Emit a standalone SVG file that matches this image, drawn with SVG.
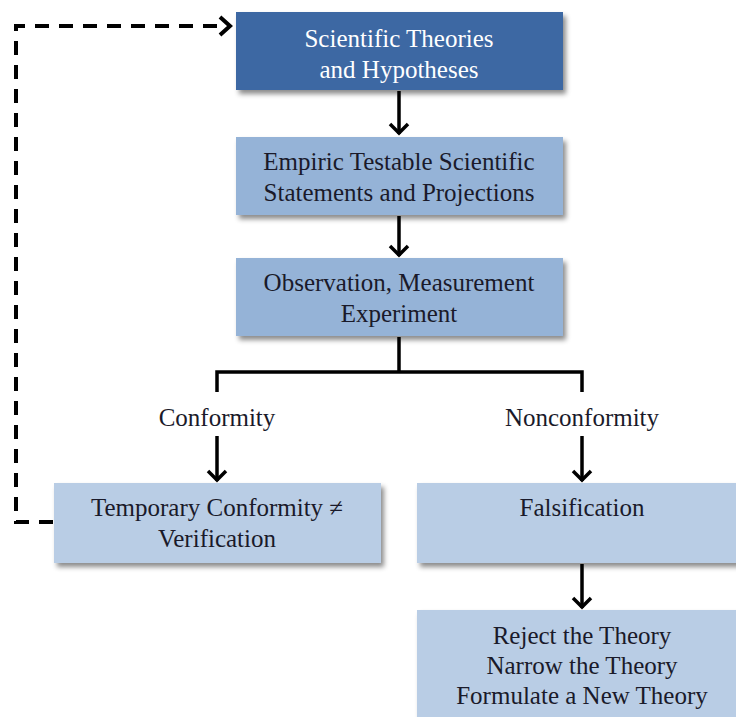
<svg xmlns="http://www.w3.org/2000/svg" width="736" height="717" viewBox="0 0 736 717">
<defs>
<filter id="sh" x="-10%" y="-10%" width="130%" height="140%">
<feDropShadow dx="3" dy="4" stdDeviation="2.5" flood-color="#000" flood-opacity="0.45"/>
</filter>
<marker id="ah" markerWidth="14" markerHeight="22" viewBox="0 0 14 22" refX="12" refY="11" orient="auto" markerUnits="userSpaceOnUse">
<path d="M2,2 L11,11 L2,20" fill="none" stroke="#000" stroke-width="3.5"/>
</marker>
</defs>
<style>
.dark{fill:#3c68a3;filter:url(#sh)}
.mid{fill:#95b3d7;filter:url(#sh)}
.light{fill:#b9cde5;filter:url(#sh)}
text{font-family:'Liberation Serif','Times New Roman',Tinos,'DejaVu Serif',serif;font-size:25px;text-anchor:middle}
.w{fill:#fff}
.k{fill:#1a1a2a}
.line{fill:none;stroke:#000;stroke-width:3.5}
.arr{fill:none;stroke:#000;stroke-width:3.5;marker-end:url(#ah)}
.dash{fill:none;stroke:#000;stroke-width:4;stroke-dasharray:14 10}
</style>
<rect width="736" height="717" fill="#fff"/>
<g id="connectors">
<line class="arr" x1="399" y1="91" x2="399" y2="134"/>
<line class="arr" x1="399" y1="216" x2="399" y2="256"/>
<polyline class="line" points="399,337 399,372"/>
<polyline class="line" points="217,392 217,372 582,372 582,392"/>
<line class="arr" x1="217" y1="436" x2="217" y2="481"/>
<line class="arr" x1="582" y1="436" x2="582" y2="481"/>
<line class="arr" x1="582" y1="564" x2="582" y2="608"/>
<polyline class="dash" points="53,522 16,522 16,26 228,26"/>
<polyline points="220,17 230,26 220,35" fill="none" stroke="#000" stroke-width="4"/>
</g>
<g id="theories">
<rect class="dark" x="236" y="12" width="327" height="78"/>
<text class="w" x="399" y="47">Scientific Theories</text>
<text class="w" x="399" y="78">and Hypotheses</text>
</g>
<g id="statements">
<rect class="mid" x="236" y="137" width="327" height="78"/>
<text class="k" x="399" y="170">Empiric Testable Scientific</text>
<text class="k" x="399" y="201">Statements and Projections</text>
</g>
<g id="observation">
<rect class="mid" x="236" y="258" width="327" height="78"/>
<text class="k" x="399" y="291">Observation, Measurement</text>
<text class="k" x="399" y="322">Experiment</text>
</g>
<g id="conformity">
<text class="k" x="217" y="426">Conformity</text>
</g>
<g id="nonconformity">
<text class="k" x="582" y="426">Nonconformity</text>
</g>
<g id="temporary">
<rect class="light" x="54" y="483" width="327" height="80"/>
<text class="k" x="217" y="516">Temporary Conformity ≠</text>
<text class="k" x="217" y="547">Verification</text>
</g>
<g id="falsification">
<rect class="light" x="417" y="483" width="325" height="80"/>
<text class="k" x="582" y="516">Falsification</text>
</g>
<g id="reject">
<rect class="light" x="417" y="610" width="325" height="110"/>
<text class="k" x="582" y="644">Reject the Theory</text>
<text class="k" x="582" y="674">Narrow the Theory</text>
<text class="k" x="582" y="704">Formulate a New Theory</text>
</g>
</svg>
